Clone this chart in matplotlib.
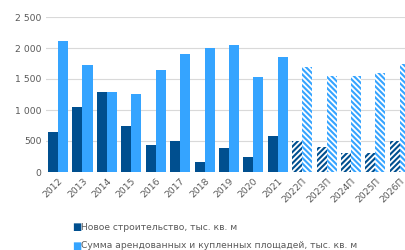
import matplotlib.pyplot as plt
import numpy as np

years = ['2012', '2013', '2014', '2015', '2016', '2017', '2018', '2019', '2020', '2021',
         '2022П', '2023П', '2024П', '2025П', '2026П']
new_build = [640, 1050, 1290, 740, 440, 500, 160, 380, 250, 580, 500, 400, 300, 300, 500]
leased_bought = [2110, 1730, 1290, 1260, 1640, 1910, 2000, 2050, 1530, 1860, 1700, 1550, 1550, 1600, 1750]
n_fact = 10  # first 10 years are actual, rest are forecasts

dark = '#004f8f'
light = '#35a4ff'

plt.rcParams['hatch.linewidth'] = 1.5

fig = plt.figure(figsize=(4.06, 2.5), dpi=100)
ax = fig.add_axes([0.113, 0.312, 0.902, 0.62])

x = np.arange(len(years))
w = 0.41
for i in range(len(years)):
    if i < n_fact:
        ax.bar(x[i] - w / 2, new_build[i], w, color=dark)
        ax.bar(x[i] + w / 2, leased_bought[i], w, color=light)
    else:
        ax.bar(x[i] - w / 2, new_build[i], w, color='white', edgecolor=dark, hatch='//////', linewidth=0)
        ax.bar(x[i] + w / 2, leased_bought[i], w, color='white', edgecolor=light, hatch='\\\\\\\\\\\\', linewidth=0)

ax.set_xlim(-0.5, len(years) - 0.5)
ax.set_ylim(0, 2500)
ax.set_yticks(range(0, 2501, 500))
ax.set_yticklabels([f'{v:,}'.replace(',', ' ') for v in range(0, 2501, 500)])
ax.set_xticks(x)
ax.set_xticklabels(years, rotation=45, ha='right', rotation_mode='anchor')
ax.tick_params(length=0, labelsize=6.7, colors='#595959', pad=3)
ax.yaxis.grid(True, color='#d9d9d9', linewidth=0.8)
ax.set_axisbelow(True)
for s in ax.spines.values():
    s.set_visible(False)

fig.text(0.177, 0.092, '■', color=dark, fontsize=7, va='center')
fig.text(0.200, 0.092, 'Новое строительство, тыс. кв. м', color='#595959', fontsize=6.6, va='center')
fig.text(0.177, 0.017, '■', color=light, fontsize=7, va='center')
fig.text(0.200, 0.017, 'Сумма арендованных и купленных площадей, тыс. кв. м', color='#595959', fontsize=6.6, va='center')

fig.savefig('out.png', dpi=100)
